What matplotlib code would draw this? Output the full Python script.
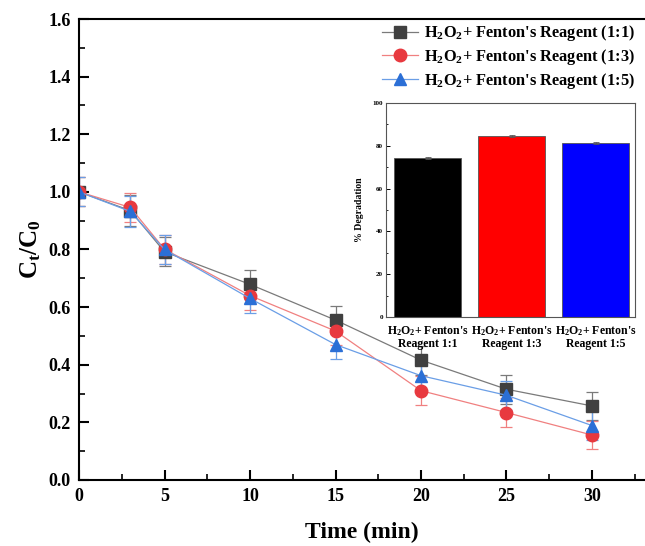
import matplotlib
matplotlib.use("Agg")
import matplotlib.pyplot as plt
from matplotlib.lines import Line2D
from matplotlib.ticker import MultipleLocator

plt.rcParams['font.family'] = ['Liberation Serif', 'DejaVu Serif']
plt.rcParams['font.weight'] = 'bold'
plt.rcParams['mathtext.fontset'] = 'custom'
plt.rcParams['mathtext.rm'] = 'Liberation Serif:bold'
plt.rcParams['mathtext.it'] = 'Liberation Serif:bold'
plt.rcParams['mathtext.bf'] = 'Liberation Serif:bold'

# kinetics data
time = [0, 3, 5, 10, 15, 20, 25, 30]
r11 = [1.0, 0.935, 0.792, 0.679, 0.555, 0.416, 0.315, 0.257]
r13 = [1.0, 0.946, 0.801, 0.640, 0.517, 0.310, 0.234, 0.156]
r15 = [1.0, 0.932, 0.800, 0.630, 0.470, 0.362, 0.294, 0.189]
e11 = [0.05, 0.055, 0.05, 0.05, 0.05, 0.05, 0.05, 0.05]
e13 = [0.05, 0.05, 0.05, 0.05, 0.05, 0.05, 0.05, 0.05]
e15 = [0.05, 0.055, 0.05, 0.05, 0.05, 0.05, 0.05, 0.05]
labels = [r"H$_\mathrm{2}$O$_\mathrm{2}$+ Fenton's Reagent (1:1)",
          r"H$_\mathrm{2}$O$_\mathrm{2}$+ Fenton's Reagent (1:3)",
          r"H$_\mathrm{2}$O$_\mathrm{2}$+ Fenton's Reagent (1:5)"]

# inset data
bar_labels = [r"H$_\mathrm{2}$O$_\mathrm{2}$+ Fenton's" + "\nReagent 1:1",
              r"H$_\mathrm{2}$O$_\mathrm{2}$+ Fenton's" + "\nReagent 1:3",
              r"H$_\mathrm{2}$O$_\mathrm{2}$+ Fenton's" + "\nReagent 1:5"]
degradation = [74.3, 84.5, 81.3]
deg_err = [0.5, 0.6, 0.6]

fig = plt.figure(figsize=(6.45, 5.46), dpi=100)
ax = fig.add_axes([0.1225, 0.1209, 0.8775, 0.8443])

styles = [('s', '#404040', '#7a7a7a'), ('o', '#e8393f', '#f08080'), ('^', '#2b6fd6', '#6a9ee6')]
handles = []
for y, e, lab, (m, c, lc) in zip([r11, r13, r15], [e11, e13, e15], labels, styles):
    ax.errorbar(time, y, yerr=e, marker=m, ms=9, color=lc, mfc=c, mec=c,
                lw=0.9, elinewidth=0.9, ecolor=lc, capsize=4, capthick=0.9)
    handles.append(Line2D([], [], marker=m, ms=9, color=lc, mfc=c, mec=c, lw=0.9, label=lab))

ax.set_xlim(0, 33.1)
ax.set_ylim(0, 1.6)
ax.xaxis.set_major_locator(MultipleLocator(5))
ax.xaxis.set_minor_locator(MultipleLocator(2.5))
ax.yaxis.set_major_locator(MultipleLocator(0.2))
ax.yaxis.set_minor_locator(MultipleLocator(0.1))
ax.yaxis.set_major_formatter(plt.FormatStrFormatter('%.1f'))
ax.tick_params(which='major', direction='in', length=7, width=1.5, labelsize=13, pad=6)
ax.tick_params(which='minor', direction='in', length=4, width=1.2)
ax.tick_params(right=False, top=False, which='both')
for s in ['left', 'bottom', 'top']:
    ax.spines[s].set_linewidth(1.5)
ax.spines['right'].set_visible(False)
ax.set_xlabel('Time (min)', fontsize=17, fontweight='bold', labelpad=12)
ax.set_ylabel(r'C$_\mathrm{t}$/C$_\mathrm{0}$', fontsize=18, fontweight='bold', labelpad=4)

ax.legend(handles=handles, loc='upper right', bbox_to_anchor=(1.0, 1.012), frameon=False,
          fontsize=11.8, handlelength=2.2, handletextpad=0.4, labelspacing=0.22,
          borderaxespad=0.2)

# inset bar chart
ins = fig.add_axes([0.5984, 0.4194, 0.386, 0.392])
ins.bar([1, 2, 3], degradation, width=0.8, yerr=deg_err, color=['black', 'red', 'blue'],
        edgecolor='#555555', linewidth=0.6, capsize=2,
        error_kw=dict(elinewidth=0.6, ecolor='#555555', capthick=0.6))
ins.set_xlim(0.5, 3.47)
ins.set_ylim(0, 100)
ins.set_xticks([1, 2, 3])
ins.set_xticklabels(bar_labels, fontsize=8.5, linespacing=1.05)
ins.yaxis.set_major_locator(MultipleLocator(20))
ins.yaxis.set_minor_locator(MultipleLocator(10))
ins.tick_params(axis='y', which='major', direction='in', length=3, width=0.7, labelsize=5, pad=2)
ins.tick_params(axis='y', which='minor', direction='in', length=1.5, width=0.6)
ins.tick_params(axis='x', length=0, pad=5)
for s in ins.spines.values():
    s.set_linewidth(0.8)
    s.set_color('#555555')
ins.set_ylabel('% Degradation', fontsize=7, fontweight='bold', labelpad=6)

fig.savefig('out.png', dpi=100)
